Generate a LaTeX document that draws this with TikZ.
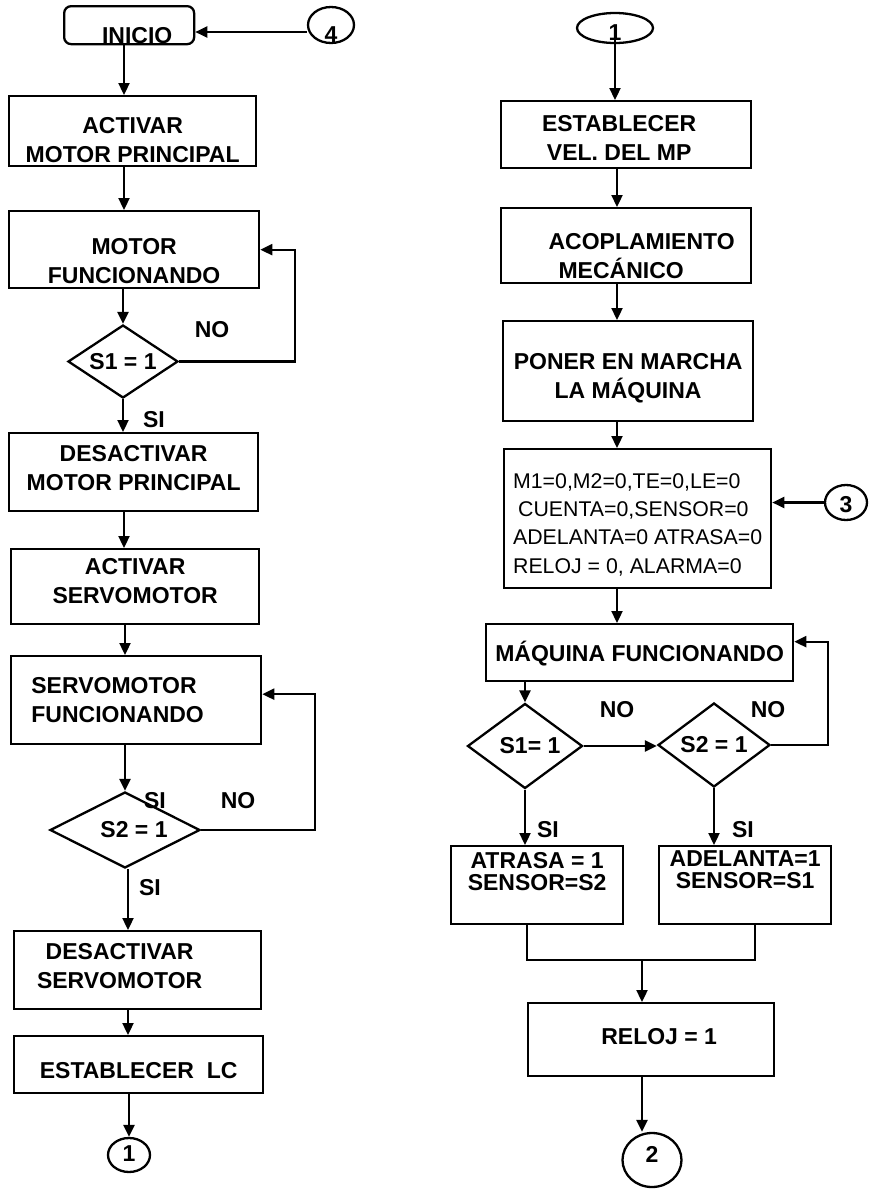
\documentclass[tikz,border=0pt]{standalone}
\usepackage{fontspec}
\setmainfont{Liberation Sans}
\usetikzlibrary{shapes.geometric,arrows.meta}
% text block of a process box: first baseline #1 below the top edge, #2 above the bottom edge
\newcommand\boxtext[3]{\raisebox{0pt}[#1][#2]{\begin{tabular}[t]{@{}c@{}}#3\end{tabular}}}
\newcommand\boxtextl[3]{\raisebox{0pt}[#1][#2]{\begin{tabular}[t]{@{}l@{}}#3\end{tabular}}}
% connector label whose baseline sits #1 below the centre of its ellipse
\newcommand\dropped[2]{\raisebox{-#1}[0pt][0pt]{#2}}
\begin{document}
\begin{tikzpicture}[x=1pt,y=-1pt,
  font=\fontsize{23}{29.5}\selectfont\bfseries,
  line width=2.3pt,
  arr/.style={-{Triangle[length=12pt,width=11pt]}},
  proc/.style={draw, rectangle, inner sep=0pt, anchor=north west},
  dec/.style={draw, diamond, inner sep=0pt},
  conn/.style={draw, ellipse, inner sep=0pt},
  lbl/.style={inner sep=0pt},
]
\useasboundingbox (0,0) rectangle (869,1189);

% ---------- left column ----------
\node[proc, rounded corners=7pt, minimum width=130] (inicio) at (63,5)
  {\raisebox{0pt}[37pt][1pt]{\hspace*{16pt}INICIO}};
\node[conn, minimum width=46, minimum height=36] (c4) at (331,25) {\dropped{17pt}{4}};
\node[proc, minimum width=247] (b1) at (8,95)
  {\boxtext{37pt}{33pt}{ACTIVAR\\MOTOR PRINCIPAL}};
\node[proc, minimum width=250] (b2) at (8,210)
  {\boxtext{43pt}{34pt}{MOTOR\\FUNCIONANDO}};
\node[dec, minimum width=110, minimum height=73, aspect=1.507] (d1) at (123,361.5) {S1 = 1};
\node[proc, minimum width=249] (b3) at (8,432)
  {\boxtext{28pt}{50pt}{DESACTIVAR\\MOTOR PRINCIPAL}};
\node[proc, minimum width=248] (b4) at (10,548)
  {\boxtext{25pt}{50pt}{ACTIVAR\\SERVOMOTOR}};
\node[proc, minimum width=250] (b5) at (10,655)
  {\boxtextl{37pt}{51pt}{SERVOMOTOR\\FUNCIONANDO}\hspace*{37pt}};
\node[dec, minimum width=150, minimum height=76, aspect=1.97] (d2) at (125,830)
  {\hspace*{18pt}S2 = 1};
\node[proc, minimum width=247] (b6) at (13,930)
  {\boxtext{28pt}{50pt}{DESACTIVAR\\SERVOMOTOR}\hspace*{36pt}};
\node[proc, minimum width=249] (b7) at (13,1035)
  {\boxtext{42pt}{15pt}{ESTABLECER\ \ LC}};
\node[conn, minimum width=42, minimum height=34] (c1) at (129,1155) {\dropped{6.4pt}{1}};

\node[lbl] (no1) at (212,330) {NO};
\node[lbl] (si1) at (154,420) {SI};
\node[lbl] (si2) at (155,801) {SI};
\node[lbl] (no2) at (238,801) {NO};
\node[lbl] (si3) at (150,888) {SI};

\coordinate (xa) at (124,0);
\coordinate (xb) at (128,0);
\coordinate (lp1) at (295,0);
\coordinate (lp2) at (315,0);

\draw[arr] ([yshift=-7pt]c4.west) -- ([yshift=-7pt]c4.west -| inicio.east);
\draw[arr] (inicio.south -| xa) -- (b1.north -| xa);
\draw[arr] (b1.south -| xa) -- (b2.north -| xa);
\draw[arr] (b2.south -| d1.north) -- (d1.north);
\draw[arr] (d1.south) -- (d1.south |- b3.north);
\draw[arr] (d1.east) -- (d1.east -| lp1) |- (b2.east);
\draw[arr] (b3.south -| xa) -- (b4.north -| xa);
\draw[arr] (b4.south -| d2.north) -- (b5.north -| d2.north);
\draw[arr] (b5.south -| d2.north) -- (d2.north);
\draw[arr] (d2.east) -- (d2.east -| lp2) |- ([yshift=6pt]b5.east);
\draw[arr] (d2.south -| xb) -- (b6.north -| xb);
\draw[arr] (b6.south -| xb) -- (b7.north -| xb);
\draw[arr] (b7.south -| c1.north) -- (c1.north);

% ---------- right column ----------
\node[conn, minimum width=76, minimum height=30] (c1r) at (615,28) {\dropped{12.4pt}{1}};
\node[proc, minimum width=250] (r1) at (500,100)
  {\boxtext{30pt}{37pt}{ESTABLECER\\VEL. DEL MP}\hspace*{14pt}};
\node[proc, minimum width=250] (r2) at (500,207)
  {\hspace*{31pt}\boxtextl{41pt}{34pt}{ACOPLAMIENTO\\\hspace*{10pt}MECÁNICO}};
\node[proc, minimum width=250] (r3) at (502,320)
  {\boxtext{48pt}{52pt}{PONER EN MARCHA\\LA MÁQUINA}};
\node[proc, minimum width=267, font=\fontsize{21.3}{28.3}\selectfont\mdseries] (r4) at (503,448)
  {\boxtextl{39pt}{100pt}{M1=0,M2=0,TE=0,LE=0\\
   \hspace*{5pt}CUENTA=0,SENSOR=0\\
   ADELANTA=0 ATRASA=0\\
   RELOJ = 0, ALARMA=0}};
\node[conn, minimum width=42, minimum height=35] (c3) at (846,502.5) {\dropped{10.4pt}{3}};
\node[proc, minimum width=307] (r5) at (485,623)
  {\boxtext{37pt}{20pt}{MÁQUINA FUNCIONANDO}};
\node[dec, minimum width=115, minimum height=85, aspect=1.35] (d3) at (525,746)
  {\hspace*{10pt}S1= 1};
\node[dec, minimum width=112, minimum height=84, aspect=1.333] (d4) at (714,745)
  {S2 = 1};
\node[proc, minimum width=172, font=\fontsize{23}{22.5}\selectfont\bfseries] (r6) at (450,845)
  {\boxtext{22pt}{56pt}{ATRASA = 1\\SENSOR=S2}};
\node[proc, minimum width=172, font=\fontsize{23}{22.5}\selectfont\bfseries] (r7) at (658,845)
  {\boxtext{20pt}{58pt}{ADELANTA=1\\SENSOR=S1}};
\node[proc, minimum width=246] (r8) at (527,1002)
  {\hspace*{16pt}\boxtext{41pt}{32pt}{RELOJ = 1}};
\node[conn, minimum width=59, minimum height=54] (c2) at (652,1160) {\dropped{2.4pt}{2}};

\node[lbl] (no3) at (617,710) {NO};
\node[lbl] (no4) at (768,710) {NO};
\node[lbl] (si4) at (548,830) {SI};
\node[lbl] (si5) at (743,830) {SI};

\coordinate (xr) at (617,0);
\coordinate (lp4) at (828,0);
\coordinate (mL) at (527,960);
\coordinate (mR) at (755,960);
\coordinate (mC) at (642,960);

\draw[arr] (c1r.center) -- (c1r.center |- r1.north);
\draw[arr] (r1.south -| xr) -- (r2.north -| xr);
\draw[arr] (r2.south -| xr) -- (r3.north -| xr);
\draw[arr] (r3.south -| xr) -- (r4.north -| xr);
\draw[arr] (c3.west) -- (c3.west -| r4.east);
\draw[arr] (r4.south -| xr) -- (r5.north -| xr);
\draw[arr] (r5.south -| d3.north) -- (d3.north);
\draw[arr] (d3.east) -- (d3.east -| d4.west);
\draw[arr] (d4.east) -- (d4.east -| lp4) |- ([yshift=11pt]r5.east);
\draw[arr] (d3.south) -- (d3.south |- r6.north);
\draw[arr] (d4.south) -- (d4.south |- r7.north);
\draw (r6.south -| mL) -- (mL) -- (mR) -- (r7.south -| mR);
\draw[arr] (mC) -- (mC |- r8.north);
\draw[arr] (r8.south -| mC) -- (c2.north -| mC);
\end{tikzpicture}
\end{document}
